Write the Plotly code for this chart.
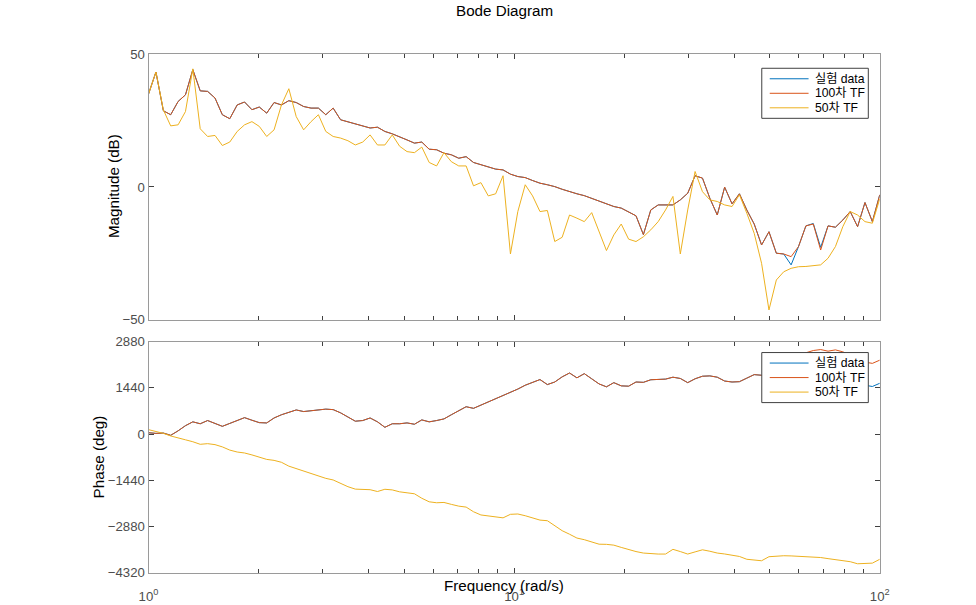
import plotly.graph_objects as go

# ---------------- data ----------------
freq = [1.000, 1.048, 1.098, 1.150, 1.205, 1.262, 1.322, 1.385, 1.451, 1.520,
        1.592, 1.668, 1.748, 1.831, 1.918, 2.009, 2.105, 2.205, 2.310, 2.420,
        2.535, 2.656, 2.783, 2.915, 3.054, 3.199, 3.352, 3.511, 3.678, 3.854,
        4.037, 4.229, 4.431, 4.642, 4.863, 5.094, 5.337, 5.591, 5.857, 6.136,
        6.428, 6.734, 7.055, 7.391, 7.743, 8.111, 8.498, 8.902, 9.326, 9.770,
        10.235, 10.723, 11.233, 11.768, 12.328, 12.915, 13.530, 14.175, 14.850, 15.557,
        16.298, 17.074, 17.886, 18.738, 19.630, 20.565, 21.544, 22.570, 23.645, 24.771,
        25.950, 27.186, 28.480, 29.836, 31.257, 32.745, 34.305, 35.938, 37.649, 39.442,
        41.320, 43.288, 45.349, 47.508, 49.770, 52.140, 54.623, 57.224, 59.948, 62.803,
        65.793, 68.926, 72.208, 75.646, 79.248, 83.022, 86.975, 91.116, 95.455, 100.0]

mag_100 = [35.0, 43.3, 28.7, 27.2, 32.2, 34.7, 44.2, 36.2, 36.0, 33.5,
           27.2, 25.7, 30.9, 32.0, 29.1, 30.1, 27.8, 31.8, 30.9, 32.5,
           31.8, 30.3, 29.7, 29.7, 27.2, 29.7, 25.3, 24.6, 23.7, 23.0,
           22.2, 22.5, 20.9, 20.0, 18.7, 17.7, 16.5, 16.9, 14.2, 14.0,
           12.7, 12.1, 10.8, 11.4, 9.2, 8.3, 7.4, 6.7, 6.4, 4.8,
           3.9, 3.5, 2.4, 1.4, 0.8, 0.1, -0.9, -1.8, -2.6, -3.3,
           -4.3, -5.5, -6.5, -7.4, -8.0, -9.3, -10.9, -18.0, -8.7, -6.8,
           -6.8, -6.8, -4.9, -2.4, 4.2, 3.3, -4.3, -10.6, -0.1, -6.4,
           -2.6, -8.7, -14.0, -21.9, -16.9, -25.0, -25.3, -26.3, -22.5, -14.7,
           -14.0, -23.8, -14.7, -15.2, -12.5, -9.3, -15.0, -5.9, -13.1, -3.0]

mag_data = [35.0, 43.3, 28.7, 27.2, 32.2, 34.7, 44.2, 36.2, 36.0, 33.5,
            27.2, 25.7, 30.9, 32.0, 29.1, 30.1, 27.8, 31.8, 30.9, 32.5,
            31.8, 30.3, 29.7, 29.7, 27.2, 29.7, 25.3, 24.6, 23.7, 23.0,
            22.2, 22.5, 20.9, 20.0, 18.7, 17.7, 16.5, 16.9, 14.2, 14.0,
            12.7, 12.1, 10.8, 11.4, 9.2, 8.3, 7.4, 6.7, 6.4, 4.8,
            3.9, 3.5, 2.4, 1.4, 0.8, 0.1, -0.9, -1.8, -2.6, -3.3,
            -4.3, -5.5, -6.5, -7.4, -8.0, -9.3, -10.9, -18.0, -8.7, -6.8,
            -6.8, -6.8, -4.9, -2.4, 4.2, 3.3, -4.3, -10.6, -0.1, -6.4,
            -2.6, -8.7, -14.0, -21.9, -16.9, -25.0, -25.3, -29.4, -22.5, -14.7,
            -13.8, -22.8, -14.7, -15.2, -12.5, -9.3, -15.0, -5.9, -13.1, -3.0]

mag_50 = [35.0, 43.3, 29.0, 23.0, 23.4, 28.4, 44.5, 21.9, 19.0, 19.4,
          15.6, 16.9, 20.9, 23.4, 24.6, 22.8, 19.0, 21.5, 30.9, 37.0,
          26.5, 21.5, 24.6, 27.2, 20.9, 19.0, 18.4, 17.4, 15.8, 16.9,
          19.6, 15.8, 15.8, 19.6, 15.3, 13.3, 12.9, 15.0, 9.2, 7.9,
          12.9, 9.5, 7.9, 7.9, 0.4, 1.6, -3.4, -2.6, 4.2, -25.3,
          -9.3, 0.8, -3.4, -9.3, -8.9, -20.6, -19.0, -10.6, -11.8, -13.1,
          -9.7, -16.9, -24.0, -18.1, -14.0, -19.7, -20.6, -18.8, -16.2, -13.1,
          -8.7, -3.6, -25.3, -8.7, 5.8, -1.8, -4.9, -5.5, -6.8, -7.4,
          -3.0, -9.9, -17.5, -28.8, -46.4, -35.1, -32.0, -30.7, -30.1, -30.0,
          -29.7, -29.4, -26.9, -22.5, -15.0, -9.3, -10.6, -13.1, -13.7, -4.5]

ph_100 = [40, 20, 30, -40, 100, 260, 380, 320, 420, 340,
          240, 330, 420, 510, 430, 355, 345, 500, 600, 680,
          750, 700, 730, 765, 775, 760, 660, 530, 400, 420,
          500, 380, 210, 320, 320, 346, 305, 440, 380, 420,
          471, 600, 720, 850, 800, 900, 1000, 1080, 1200, 1300,
          1400, 1520, 1610, 1696, 1540, 1620, 1780, 1900, 1750, 1880,
          1720, 1560, 1470, 1600, 1500, 1490, 1620, 1610, 1690, 1696,
          1710, 1770, 1730, 1600, 1720, 1800, 1810, 1770, 1650, 1620,
          1630, 1740, 1850, 1830, 1930, 2000, 2150, 2300, 2420, 2530,
          2600, 2630, 2580, 2620, 2560, 2450, 2350, 2240, 2200, 2300]

ph_data = [40, 20, 30, -40, 100, 260, 380, 320, 420, 340,
           240, 330, 420, 510, 430, 355, 345, 500, 600, 680,
           750, 700, 730, 765, 775, 760, 660, 530, 400, 420,
           500, 380, 210, 320, 320, 346, 305, 440, 380, 420,
           471, 600, 720, 850, 800, 900, 1000, 1080, 1200, 1300,
           1400, 1520, 1610, 1696, 1540, 1620, 1780, 1900, 1750, 1880,
           1720, 1560, 1470, 1600, 1500, 1490, 1620, 1610, 1690, 1696,
           1710, 1770, 1730, 1600, 1720, 1800, 1810, 1770, 1650, 1620,
           1630, 1740, 1850, 1830, 1930, 2000, 2150, 2300, 1700, 1810,
           1880, 1910, 1860, 1900, 1840, 1730, 1630, 1520, 1480, 1580]

ph_50 = [137, 80, 20, -60, -130, -180, -240, -320, -300, -330,
         -400, -500, -560, -590, -650, -720, -790, -820, -880, -1000,
         -1080, -1140, -1220, -1310, -1380, -1430, -1540, -1640, -1715, -1725,
         -1733, -1790, -1720, -1740, -1800, -1830, -1860, -2000, -2110, -2140,
         -2130, -2190, -2245, -2275, -2420, -2520, -2555, -2570, -2610, -2500,
         -2490, -2544, -2620, -2680, -2699, -2850, -3010, -3120, -3239, -3290,
         -3360, -3430, -3435, -3460, -3530, -3600, -3660, -3706, -3730, -3737,
         -3737, -3590, -3660, -3737, -3670, -3605, -3650, -3706, -3735, -3765,
         -3812, -3900, -3930, -3946, -3820, -3795, -3790, -3795, -3805, -3812,
         -3825, -3845, -3880, -3915, -3935, -3975, -4040, -4040, -4020, -3900]

series_names = ["실험 data", "100차 TF", "50차 TF"]
series_colors = ["#0072BD", "#D95319", "#EDB120"]
mag_series = [mag_data, mag_100, mag_50]
ph_series = [ph_data, ph_100, ph_50]

x_major = [1, 10, 100]
x_major_text = ["10<sup>0</sup>", "10<sup>1</sup>", "10<sup>2</sup>"]
x_minor = [2, 3, 4, 5, 6, 7, 8, 9, 20, 30, 40, 50, 60, 70, 80, 90]
mag_ticks = [-50, 0, 50]
ph_ticks = [-4320, -2880, -1440, 0, 1440, 2880]

# ---------------- figure ----------------
W, H = 976, 605
# the page keeps an 8 px body margin and the snapshot is fitted back to the
# window, so target window pixels are mapped to figure paper coordinates here
OFF = 8
SX = W / (W + 2 * OFF)
SY = H / (H + 2 * OFF)
FS = 1.0 / SX  # font scale to compensate the fit


def X(px):
    return (px / SX - OFF) / W


def Y(py):
    return 1 - (py / SY - OFF) / H


def fs(size):
    return round(size * FS, 1)


FONT = "Liberation Sans, Arial, Noto Sans CJK KR, sans-serif"
AX_LINE = "#9a9a9a"
TICK_COL = "#404040"
LABEL_COL = "#4d4d4d"

fig = go.Figure()
for name, col, m in zip(series_names, series_colors, mag_series):
    fig.add_trace(go.Scatter(x=freq, y=m, mode="lines", name=name,
                             line=dict(color=col, width=1),
                             xaxis="x", yaxis="y", showlegend=False))
for name, col, p in zip(series_names, series_colors, ph_series):
    fig.add_trace(go.Scatter(x=freq, y=p, mode="lines", name=name,
                             line=dict(color=col, width=1),
                             xaxis="x2", yaxis="y2", showlegend=False))

x_dom = [X(147), X(881.5)]
common_x = dict(type="log", range=[0, 2], domain=x_dom, showline=True,
                linecolor=AX_LINE, linewidth=1, mirror="ticks", ticks="inside",
                ticklen=5, tickcolor=TICK_COL, tickvals=x_major,
                minor=dict(tickvals=x_minor, ticks="inside", ticklen=4,
                           tickcolor=TICK_COL, showgrid=False),
                showgrid=False, zeroline=False,
                tickfont=dict(family=FONT, size=fs(13), color=LABEL_COL))
common_y = dict(showline=True, linecolor=AX_LINE, linewidth=1, mirror="ticks",
                ticks="inside", ticklen=5, tickcolor=TICK_COL, showgrid=False,
                zeroline=False,
                tickfont=dict(family=FONT, size=fs(13), color=LABEL_COL))

fig.update_layout(
    width=W, height=H, margin=dict(l=0, r=0, t=0, b=0),
    paper_bgcolor="white", plot_bgcolor="white",
    font=dict(family=FONT, size=fs(13), color="black"),
    xaxis=dict(common_x, anchor="y", showticklabels=False),
    yaxis=dict(common_y, anchor="x", domain=[Y(320), Y(55)],
               range=[-50, 50], tickvals=mag_ticks),
    xaxis2=dict(common_x, anchor="y2", ticktext=x_major_text,
                ticklabelstandoff=11),
    yaxis2=dict(common_y, anchor="x2", domain=[Y(573), Y(342)],
                range=[-4320, 2880], tickvals=ph_ticks),
    showlegend=False,
)

# MATLAB-style legends (box, line samples, labels) drawn over the traces
legend_boxes = [(69, [79.5, 94, 108.5]), (353, [363.5, 378, 392.5])]
for top, rows in legend_boxes:
    fig.add_shape(type="rect", xref="paper", yref="paper",
                  x0=X(763), x1=X(870), y0=Y(top + 50), y1=Y(top),
                  fillcolor="white", line=dict(color="#404040", width=1),
                  layer="above")
    for name, col, ry in zip(series_names, series_colors, rows):
        fig.add_shape(type="line", xref="paper", yref="paper",
                      x0=X(771), x1=X(810), y0=Y(ry), y1=Y(ry),
                      line=dict(color=col, width=1), layer="above")
        fig.add_annotation(text=name, x=X(814), y=Y(ry), xref="paper",
                           yref="paper", showarrow=False, xanchor="left",
                           yanchor="middle",
                           font=dict(family=FONT, size=fs(12), color="black"))

fig.add_annotation(text="Bode Diagram", x=X(505), y=Y(11), xref="paper",
                   yref="paper", showarrow=False, xanchor="center", yanchor="middle",
                   font=dict(family=FONT, size=fs(15), color="black"))
fig.add_annotation(text="Magnitude (dB)", x=X(112), y=Y(187), xref="paper",
                   yref="paper", showarrow=False, textangle=-90, xanchor="center",
                   yanchor="middle", font=dict(family=FONT, size=fs(15), color="black"))
fig.add_annotation(text="Phase (deg)", x=X(97), y=Y(457), xref="paper",
                   yref="paper", showarrow=False, textangle=-90, xanchor="center",
                   yanchor="middle", font=dict(family=FONT, size=fs(15), color="black"))
fig.add_annotation(text="Frequency (rad/s)", x=X(504), y=Y(586), xref="paper",
                   yref="paper", showarrow=False, xanchor="center", yanchor="middle",
                   font=dict(family=FONT, size=fs(15), color="black"))

fig.write_html("out.html")
